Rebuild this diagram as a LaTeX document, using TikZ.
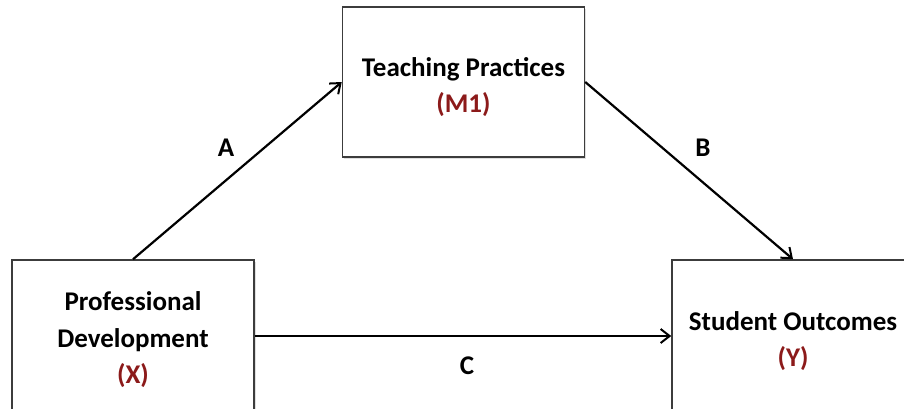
\documentclass[tikz,border=0pt]{standalone}
\usepackage{fontspec}
\setmainfont{Carlito}
\usetikzlibrary{arrows.meta,shadows}
\definecolor{codered}{RGB}{140,26,26}
\definecolor{boxline}{RGB}{60,60,60}
\begin{document}
\begin{tikzpicture}[x=1pt,y=-1pt,
  box/.style={draw=boxline, line width=1.5pt, fill=white, minimum width=242pt,
    drop shadow={shadow xshift=1.5pt, shadow yshift=-1.5pt, opacity=0.25}},
  boxtext/.style={align=center, font=\fontsize{27}{36.5}\selectfont\bfseries},
  conn/.style={line width=2.2pt, -{Straight Barb[length=9pt,width=14pt,line width=2pt]}},
  lab/.style={font=\fontsize{27}{30}\selectfont\bfseries}]
\useasboundingbox (0,0) rectangle (904,408);
\fill[white] (0,0) rectangle (904,408);
\clip (0,0) rectangle (904,408);
\node[box, minimum height=150pt] (tp) at (463.5,82) {};
\node[box, minimum height=152pt] (pd) at (133,336) {};
\node[box, minimum height=152pt] (so) at (793,336) {};
\node[boxtext] (tpt) at ([yshift=-5pt]tp.center) {Teaching Practices\\\textcolor{codered}{(M1)}};
\node[boxtext] (pdt) at ([yshift=-4pt]pd.center) {Professional\\Development\\\textcolor{codered}{(X)}};
\node[boxtext] (sot) at ([yshift=-5pt]so.center) {Student Outcomes\\\textcolor{codered}{(Y)}};
\draw[conn] (pd.north) -- (tp.west);
\draw[conn] (tp.east) -- (so.north);
\draw[conn] (pd.east) -- (so.west);
\node[lab] (la) at (226,148) {A};
\node[lab] (lb) at (703,148) {B};
\node[lab] (lc) at (467,366) {C};
\end{tikzpicture}
\end{document}
